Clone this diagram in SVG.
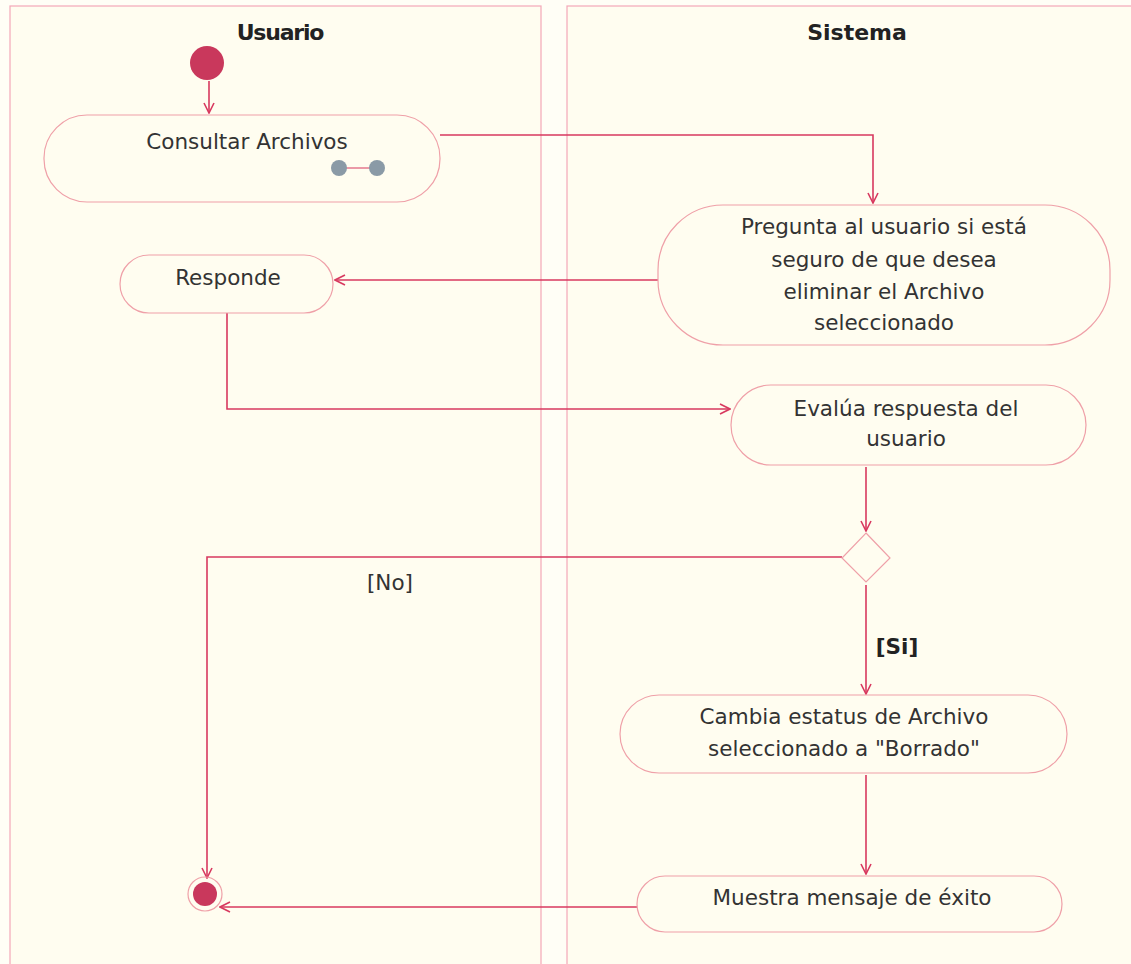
<svg xmlns="http://www.w3.org/2000/svg" width="1131" height="964" viewBox="0 0 1131 964">
<defs>
<marker id="arr" viewBox="0 0 12 12" refX="11" refY="6" markerWidth="12" markerHeight="12" markerUnits="userSpaceOnUse" orient="auto">
<path d="M1,1 L11,6 L1,11" fill="none" stroke="#d8395f" stroke-width="1.6"/>
</marker>
<style>
.lane{fill:#fffdf0;stroke:#f3a7b8;stroke-width:1.2}
.node{fill:#fffdf0;stroke:#efa0a8;stroke-width:1.2}
.t{font-family:"DejaVu Sans",Verdana,sans-serif;font-size:21.5px;fill:#333;text-anchor:middle}
.h{font-family:"DejaVu Sans",Verdana,sans-serif;font-size:22px;font-weight:bold;fill:#222;text-anchor:middle}
.c{fill:none;stroke:#d8395f;stroke-width:1.6;marker-end:url(#arr)}
</style>
</defs>
<rect x="0" y="0" width="1131" height="964" fill="#fffef6"/>
<g id="lane-usuario">
<rect class="lane" x="10" y="6" width="531" height="970"/>
<text class="h" x="280" y="40" style="letter-spacing:-1.2px">Usuario</text>
</g>
<g id="lane-sistema">
<rect class="lane" x="567" y="6" width="580" height="970"/>
<text class="h" x="857" y="40">Sistema</text>
</g>
<g id="connectors">
<path class="c" d="M209,81 L209,113"/>
<path class="c" d="M440,135 L873,135 L873,203"/>
<path class="c" d="M658,280 L335,280"/>
<path class="c" d="M227,313 L227,409 L730,409"/>
<path class="c" d="M866,467 L866,531"/>
<path class="c" d="M842,557 L207,557 L207,878"/>
<path class="c" d="M866,585 L866,694"/>
<path class="c" d="M866,775 L866,874"/>
<path class="c" d="M637,907 L220,907"/>
</g>
<g id="start">
<circle cx="207" cy="63" r="17" fill="#c9385c"/>
</g>
<g id="consultar">
<rect class="node" x="44" y="115" width="396" height="87" rx="43" ry="43"/>
<text class="t" x="247" y="149">Consultar Archivos</text>
<line x1="339" y1="168" x2="377" y2="168" stroke="#d8395f" stroke-width="1.2"/>
<circle cx="339" cy="168" r="8" fill="#8a9aa6"/>
<circle cx="377" cy="168" r="8" fill="#8a9aa6"/>
</g>
<g id="pregunta">
<rect class="node" x="658" y="205" width="452" height="140" rx="65" ry="65"/>
<text class="t" x="884" y="234">Pregunta al usuario si está</text>
<text class="t" x="884" y="267">seguro de que desea</text>
<text class="t" x="884" y="299">eliminar el Archivo</text>
<text class="t" x="884" y="330">seleccionado</text>
</g>
<g id="responde">
<rect class="node" x="120" y="255" width="213" height="58" rx="29" ry="29"/>
<text class="t" x="228" y="285">Responde</text>
</g>
<g id="evalua">
<rect class="node" x="731" y="385" width="355" height="80" rx="40" ry="40"/>
<text class="t" x="906" y="416">Evalúa respuesta del</text>
<text class="t" x="906" y="446">usuario</text>
</g>
<g id="decision">
<polygon class="node" points="866,533 890,558 866,582 842,558"/>
</g>
<g id="labels">
<text class="t" x="390" y="590">[No]</text>
<text class="t" x="897" y="654" style="font-weight:bold;fill:#222">[Si]</text>
</g>
<g id="cambia">
<rect class="node" x="620" y="695" width="447" height="78" rx="39" ry="39"/>
<text class="t" x="844" y="724">Cambia estatus de Archivo</text>
<text class="t" x="844" y="756">seleccionado a "Borrado"</text>
</g>
<g id="muestra">
<rect class="node" x="637" y="876" width="425" height="56" rx="28" ry="28"/>
<text class="t" x="852" y="905">Muestra mensaje de éxito</text>
</g>
<g id="end">
<circle cx="205" cy="894" r="17" fill="none" stroke="#efa0a8" stroke-width="1.2"/>
<circle cx="205" cy="894" r="12" fill="#c9385c"/>
</g>
</svg>
